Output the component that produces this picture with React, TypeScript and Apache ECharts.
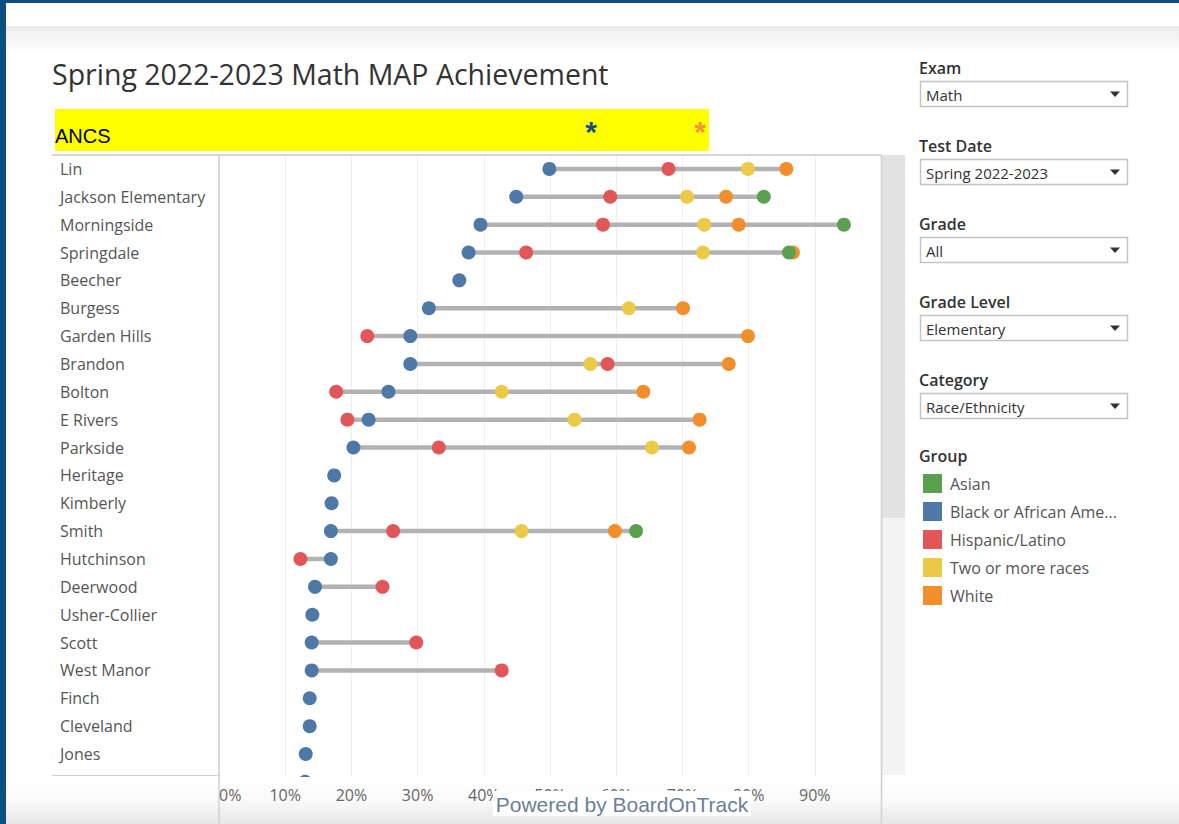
import React, { useEffect, useRef } from "react";
import * as echarts from "echarts";

const schools = [
  "Lin", "Jackson Elementary", "Morningside", "Springdale", "Beecher", "Burgess",
  "Garden Hills", "Brandon", "Bolton", "E Rivers", "Parkside", "Heritage",
  "Kimberly", "Smith", "Hutchinson", "Deerwood", "Usher-Collier", "Scott",
  "West Manor", "Finch", "Cleveland", "Jones", " ",
];

const groups = ["Asian", "Black or African American", "Hispanic/Latino", "Two or more races", "White"];

const asian = [null, 82.3, 94.4, 86.1, null, null, null, null, null, null, null, null, null, 63.0, null, null, null, null, null, null, null, null, null];
const black = [49.9, 44.9, 39.5, 37.7, 36.3, 31.7, 28.9, 28.9, 25.6, 22.6, 20.3, 17.4, 17.0, 16.9, 16.9, 14.5, 14.1, 14.0, 14.0, 13.7, 13.7, 13.1, 13.0];
const hispanic = [67.9, 59.1, 58.0, 46.4, null, null, 22.4, 58.7, 17.7, 19.4, 33.2, null, null, 26.3, 12.3, 24.7, null, 29.8, 42.7, null, null, null, null];
const twoOrMore = [79.9, 70.7, 73.3, 73.1, null, 61.9, null, 56.1, 42.7, 53.7, 65.4, null, null, 45.7, null, null, null, null, null, null, null, null, null];
const white = [85.7, 76.6, 78.5, 86.7, null, 70.1, 79.9, 77.0, 64.1, 72.6, 71.0, null, null, 59.8, null, null, null, null, null, null, null, null, null];

const xTicks = [0, 10, 20, 30, 40, 50, 60, 70, 80, 90];

const colors: Record<string, string> = {
  "Asian": "#59a14f",
  "Black or African American": "#4e79a7",
  "Hispanic/Latino": "#e15759",
  "Two or more races": "#edc948",
  "White": "#f28e2b",
};

const seriesValues: Record<string, (number | null)[]> = {
  "Asian": asian,
  "Black or African American": black,
  "Hispanic/Latino": hispanic,
  "Two or more races": twoOrMore,
  "White": white,
};

const filters = [
  { label: "Exam", value: "Math" },
  { label: "Test Date", value: "Spring 2022-2023" },
  { label: "Grade", value: "All" },
  { label: "Grade Level", value: "Elementary" },
  { label: "Category", value: "Race/Ethnicity" },
];

const FONT = "'Open Sans', 'Noto Sans', sans-serif";

export default function App() {
  const ref = useRef<HTMLDivElement>(null);
  useEffect(() => {
    if (!ref.current) return;
    const chart = echarts.init(ref.current, undefined, { renderer: "svg" });

    const ranges: number[][] = [];
    schools.forEach((_, i) => {
      const vals = groups.map((g) => seriesValues[g][i]).filter((v) => v != null) as number[];
      if (vals.length >= 2) ranges.push([i, Math.min(...vals), Math.max(...vals)]);
    });

    const drawOrder = ["White", "Two or more races", "Hispanic/Latino", "Black or African American", "Asian"];
    const scatterSeries = drawOrder.map((g) => ({
      name: g,
      type: "scatter",
      xAxisIndex: 0,
      yAxisIndex: 0,
      symbol: "circle",
      symbolSize: 14,
      itemStyle: { color: colors[g], opacity: 1 },
      z: 5,
      data: seriesValues[g]
        .map((v, i) => (v == null ? null : [v, i]))
        .filter((d) => d != null),
    }));

    const graphics: any[] = [];
    // frame
    graphics.push({ type: "rect", z: 0, shape: { x: 0, y: 0, width: 1179, height: 824 }, style: { fill: "#ffffff" }, silent: true });
    graphics.push({
      type: "rect", z: 1, shape: { x: 0, y: 26, width: 1179, height: 26 },
      style: { fill: new echarts.graphic.LinearGradient(0, 0, 0, 1, [{ offset: 0, color: "#ebebeb" }, { offset: 1, color: "#ffffff" }]) },
      silent: true,
    });
    graphics.push({ type: "rect", z: 90, shape: { x: 0, y: 0, width: 1179, height: 3 }, style: { fill: "#0b5080" }, silent: true });
    graphics.push({ type: "rect", z: 90, shape: { x: 0, y: 0, width: 6, height: 824 }, style: { fill: "#0b5080" }, silent: true });

    // title
    graphics.push({
      type: "text", z: 10, x: 52, y: 74,
      style: { text: "Spring 2022-2023 Math MAP Achievement", font: `28.5px ${FONT}`, fill: "#333333", textVerticalAlign: "middle" },
    });
    // yellow banner
    graphics.push({ type: "rect", z: 10, shape: { x: 55, y: 109, width: 654, height: 42 }, style: { fill: "#ffff00" } });
    graphics.push({
      type: "text", z: 11, x: 55, y: 136,
      style: { text: "ANCS", font: "20px 'Liberation Sans Narrow', 'Liberation Sans', sans-serif", fill: "#000000", textVerticalAlign: "middle" },
    });
    graphics.push({
      type: "text", z: 11, x: 591, y: 131,
      style: { text: "*", font: "bold 30px 'Liberation Sans', sans-serif", fill: "#15507a", textAlign: "center", textVerticalAlign: "middle" },
    });
    graphics.push({
      type: "text", z: 11, x: 700, y: 131,
      style: { text: "*", font: "bold 30px 'Liberation Sans', sans-serif", fill: "#f7923a", textAlign: "center", textVerticalAlign: "middle" },
    });

    // scrollbar
    graphics.push({ type: "rect", z: 3, shape: { x: 882, y: 155, width: 23, height: 363 }, style: { fill: "#e2e2e2" }, silent: true });
    graphics.push({ type: "rect", z: 3, shape: { x: 882, y: 518, width: 23, height: 257 }, style: { fill: "#f3f3f3" }, silent: true });

    // bottom fade overlay
    graphics.push({
      type: "rect", z: 50, shape: { x: 6, y: 777, width: 1173, height: 47 },
      style: { fill: new echarts.graphic.LinearGradient(0, 0, 0, 1, [{ offset: 0, color: "#ffffff" }, { offset: 0.5, color: "#fafafa" }, { offset: 1, color: "#e6e6e6" }]) },
      silent: true,
    });

    // borders
    graphics.push({ type: "line", z: 55, shape: { x1: 52, y1: 155, x2: 881, y2: 155 }, style: { stroke: "#d6d6d6", lineWidth: 2 }, silent: true });
    graphics.push({ type: "line", z: 55, shape: { x1: 219, y1: 155, x2: 219, y2: 824 }, style: { stroke: "#cfcfcf", lineWidth: 1.5 }, silent: true });
    graphics.push({ type: "line", z: 55, shape: { x1: 881.5, y1: 155, x2: 881.5, y2: 824 }, style: { stroke: "#cfcfcf", lineWidth: 1.5 }, silent: true });
    graphics.push({ type: "line", z: 55, shape: { x1: 52, y1: 775.5, x2: 219, y2: 775.5 }, style: { stroke: "#cfcfcf", lineWidth: 1 }, silent: true });

    // Powered by
    graphics.push({ type: "rect", z: 80, shape: { x: 493, y: 791, width: 258, height: 25 }, style: { fill: "#ffffff" } });
    graphics.push({
      type: "text", z: 81, x: 622, y: 804,
      style: { text: "Powered by BoardOnTrack", font: "21px 'Liberation Sans', Arial, sans-serif", fill: "#6b7f95", textAlign: "center", textVerticalAlign: "middle" },
    });

    // filters
    filters.forEach((f, k) => {
      const top = 68 + k * 78;
      graphics.push({
        type: "text", z: 10, x: 919, y: top,
        style: { text: f.label, font: `600 16px ${FONT}`, fill: "#333333", textVerticalAlign: "middle" },
      });
      graphics.push({ type: "rect", z: 10, shape: { x: 920.5, y: top + 13.5, width: 207, height: 25 }, style: { fill: "#ffffff", stroke: "#c4c4c4", lineWidth: 1.5 } });
      graphics.push({
        type: "text", z: 11, x: 926, y: top + 26.5,
        style: { text: f.value, font: `15px ${FONT}`, fill: "#333333", textVerticalAlign: "middle" },
      });
      graphics.push({
        type: "polygon", z: 11,
        shape: { points: [[1110, top + 23.5], [1120, top + 23.5], [1115, top + 29]] },
        style: { fill: "#333333" },
      });
    });
    graphics.push({
      type: "text", z: 10, x: 919, y: 456,
      style: { text: "Group", font: `600 16px ${FONT}`, fill: "#333333", textVerticalAlign: "middle" },
    });

    const option: any = {
      animation: false,
      backgroundColor: "#ffffff",
      graphic: { elements: graphics },
      grid: [
        { left: 219, top: 155, width: 662, height: 23 * 27.86, containLabel: false, z: 4 },
        { left: 219, top: 780, width: 662, height: 1, containLabel: false },
      ],
      legend: {
        orient: "vertical",
        left: 918,
        top: 469,
        itemWidth: 19,
        itemHeight: 19,
        itemGap: 9,
        icon: "rect",
        selectedMode: false,
        data: groups,
        formatter: (n: string) => (n === "Black or African American" ? "Black or African Ame..." : n),
        textStyle: { fontSize: 16, color: "#555555", fontFamily: FONT, padding: [0, 0, 0, 3] },
        z: 20,
      },
      xAxis: [
        {
          type: "value", gridIndex: 0, min: 0, max: 100, interval: 10,
          axisLine: { show: false }, axisTick: { show: false }, axisLabel: { show: false },
          splitLine: { show: true, lineStyle: { color: "#eeeeee", width: 1 } },
        },
        {
          type: "value", gridIndex: 1, min: 0, max: 100, interval: 10, position: "bottom",
          axisLine: { show: false }, axisTick: { show: false }, splitLine: { show: false },
          axisLabel: {
            show: true, showMaxLabel: false, alignMinLabel: "left", margin: 6,
            formatter: (v: number) => (xTicks.includes(v) ? `${v}%` : ""),
            fontSize: 16, color: "#666666", fontFamily: FONT,
          },
          z: 70,
        },
      ],
      yAxis: [
        {
          type: "category", gridIndex: 0, inverse: true, data: schools,
          axisLine: { show: false }, axisTick: { show: false }, splitLine: { show: false },
          axisLabel: { align: "left", margin: 159, fontSize: 16, color: "#555555", fontFamily: FONT },
        },
        {
          type: "value", gridIndex: 1, show: false,
        },
      ],
      series: [
        {
          type: "custom",
          name: "range",
          xAxisIndex: 0,
          yAxisIndex: 0,
          z: 3,
          silent: true,
          encode: { x: [1, 2], y: 0 },
          data: ranges,
          renderItem: (params: any, api: any) => {
            const idx = api.value(0);
            const p1 = api.coord([api.value(1), idx]);
            const p2 = api.coord([api.value(2), idx]);
            return {
              type: "line",
              shape: { x1: p1[0], y1: p1[1], x2: p2[0], y2: p2[1] },
              style: { stroke: "#b2b2b2", lineWidth: 4.5 },
            };
          },
        },
        ...scatterSeries,
      ],
    };
    chart.setOption(option);
    return () => chart.dispose();
  }, []);

  return (
    <div
      ref={ref}
      style={{ position: "absolute", left: 0, top: 0, width: 1179, height: 824 }}
    />
  );
}
